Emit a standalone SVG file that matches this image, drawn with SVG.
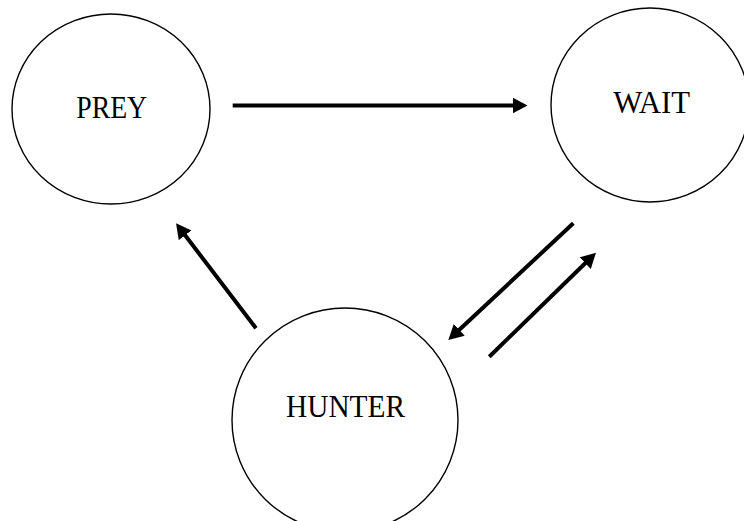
<svg xmlns="http://www.w3.org/2000/svg" width="744" height="521" viewBox="0 0 744 521">
<style>
.node{fill:#fff;stroke:#000;stroke-width:1.4}
.lbl{font-family:"Liberation Serif",serif;font-size:31.5px;fill:#000;text-anchor:middle}
.edge{stroke:#000;stroke-width:4;fill:none;marker-end:url(#ah)}
</style>
<defs>
<marker id="ah" markerUnits="userSpaceOnUse" markerWidth="16" markerHeight="16" viewBox="0 0 16 16" refX="5" refY="8" orient="auto">
<path d="M0,0 L15,8 L0,16 z" fill="#000"/>
</marker>
</defs>
<rect width="744" height="521" fill="#fff"/>
<g id="prey"><ellipse class="node" cx="111" cy="109" rx="99" ry="95"/><text class="lbl" x="111.7" y="117.5" textLength="71" lengthAdjust="spacingAndGlyphs">PREY</text></g>
<g id="wait"><ellipse class="node" cx="650" cy="105" rx="99" ry="97"/><text class="lbl" x="651.7" y="112.5" textLength="77" lengthAdjust="spacingAndGlyphs">WAIT</text></g>
<g id="hunter"><ellipse class="node" cx="345" cy="420" rx="113" ry="112"/><text class="lbl" x="345.5" y="416.5" textLength="119" lengthAdjust="spacingAndGlyphs">HUNTER</text></g>
<g id="connectors">
<line class="edge" x1="232.7" y1="105.5" x2="517.5" y2="105.5"/>
<line class="edge" x1="573.3" y1="223.3" x2="455.6" y2="333.2"/>
<line class="edge" x1="489.3" y1="356.7" x2="588.8" y2="259.7"/>
<line class="edge" x1="256" y1="328.3" x2="182.1" y2="231.3"/>
</g>
</svg>
